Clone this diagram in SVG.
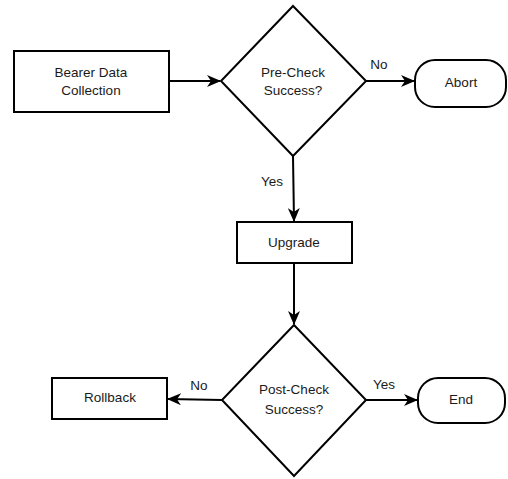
<svg xmlns="http://www.w3.org/2000/svg" width="508" height="479" viewBox="0 0 508 479">
<defs>
<style>
.shape{fill:#fff;stroke:#000;stroke-width:2}
.edge{fill:none;stroke:#000;stroke-width:2}
text{font-family:"Liberation Sans",Arial,sans-serif;font-size:13.5px;fill:#1a1a1a;text-anchor:middle}
</style>
<marker id="arr" viewBox="0 0 14 12" refX="13" refY="6" markerWidth="14" markerHeight="12" markerUnits="userSpaceOnUse" orient="auto">
<path d="M0,0 L14,6 L0,12 L4,6 Z" fill="#000"/>
</marker>
</defs>
<rect width="508" height="479" fill="#fff"/>
<g id="connectors">
<line class="edge" x1="169" y1="81" x2="220" y2="81" marker-end="url(#arr)"/>
<line class="edge" x1="366" y1="81" x2="414" y2="81" marker-end="url(#arr)"/>
<line class="edge" x1="293" y1="156" x2="294" y2="221" marker-end="url(#arr)"/>
<line class="edge" x1="294" y1="263" x2="294" y2="324" marker-end="url(#arr)"/>
<line class="edge" x1="222" y1="400" x2="168" y2="399" marker-end="url(#arr)"/>
<line class="edge" x1="366" y1="400" x2="417" y2="400" marker-end="url(#arr)"/>
<text x="379" y="69">No</text>
<text x="272" y="186">Yes</text>
<text x="199" y="390">No</text>
<text x="384" y="389">Yes</text>
</g>
<g id="bearer">
<rect class="shape" x="14" y="51" width="155" height="61"/>
<text x="91" y="77">Bearer Data</text>
<text x="91" y="95">Collection</text>
</g>
<g id="precheck">
<polygon class="shape" points="293,6 366,81 293,156 221,81"/>
<text x="293" y="77">Pre-Check</text>
<text x="293" y="95">Success?</text>
</g>
<g id="abort">
<rect class="shape" x="415" y="60" width="91" height="47" rx="20" ry="20"/>
<text x="461" y="87">Abort</text>
</g>
<g id="upgrade">
<rect class="shape" x="237" y="222" width="115" height="41"/>
<text x="294" y="247">Upgrade</text>
</g>
<g id="postcheck">
<polygon class="shape" points="294,325 366,400 294,476 222,400"/>
<text x="294" y="394">Post-Check</text>
<text x="294" y="414">Success?</text>
</g>
<g id="rollback">
<rect class="shape" x="52" y="378" width="115" height="41"/>
<text x="110" y="402">Rollback</text>
</g>
<g id="end">
<rect class="shape" x="418" y="378" width="87" height="45" rx="20" ry="20"/>
<text x="461" y="404">End</text>
</g>
</svg>
